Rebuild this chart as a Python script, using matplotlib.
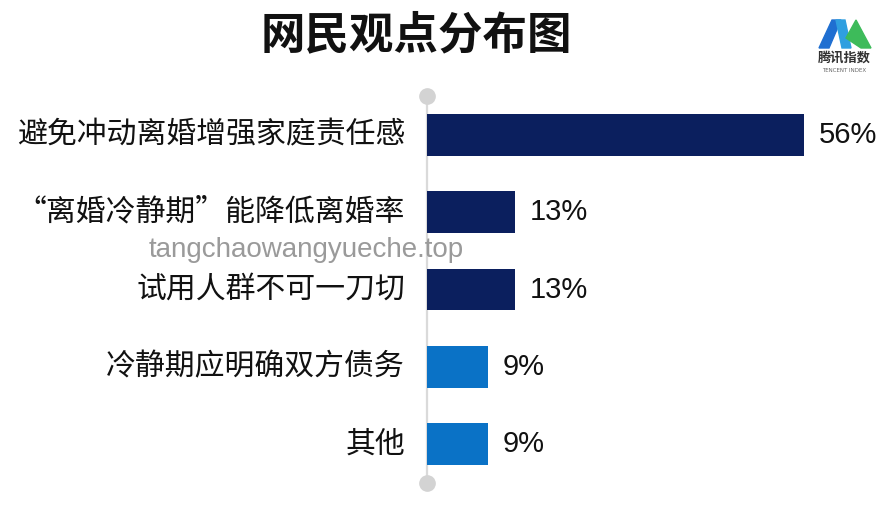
import matplotlib
matplotlib.use('Agg')
import matplotlib.pyplot as plt
from matplotlib.patches import Polygon

plt.rcParams['font.family'] = ['Noto Sans CJK SC', 'DejaVu Sans']

# data
categories = ['避免冲动离婚增强家庭责任感', '“离婚冷静期”能降低离婚率', '试用人群不可一刀切',
              '冷静期应明确双方债务', '其他']
values = [56, 13, 13, 9, 9]
colors = ['#0B1F5E', '#0B1F5E', '#0B1F5E', '#0A72C6', '#0A72C6']

W, H = 884, 520
fig = plt.figure(figsize=(W / 100, H / 100), dpi=100)
fig.patch.set_facecolor('white')

# axes placed in pixel terms
ax_left, ax_right = 427, 884
ax_top, ax_bottom = 96, 483
ax = fig.add_axes([ax_left / W, 1 - ax_bottom / H, (ax_right - ax_left) / W, (ax_bottom - ax_top) / H])
ax.set_facecolor('none')

px_per_pct = 377 / 56
ax.set_xlim(0, (ax_right - ax_left) / px_per_pct)
ax.set_ylim(4.5, -0.5)

ypos = list(range(len(categories)))
ax.barh(ypos, values, height=0.54, color=colors, zorder=2)

for y, v, c in zip(ypos, values, categories):
    ax.text(v + 15 / px_per_pct, y, f'{v}%', va='center', ha='left', fontsize=21, color='#111111',
            family=['Liberation Sans', 'DejaVu Sans'])
    ax.text(-22 / px_per_pct, y, c, va='center', ha='right', fontsize=21.5, color='#111111', clip_on=False)

for s in ax.spines.values():
    s.set_visible(False)
ax.set_xticks([])
ax.set_yticks([])

# axis line with dots at both ends
ax.plot([0, 0], [-0.5, 4.5], color='#DADADA', lw=1.6, zorder=1, clip_on=False)
ax.plot([0, 0], [-0.5, 4.5], 'o', color='#D3D3D3', ms=11, zorder=3, clip_on=False)

# title
fig.text(416 / W, 1 - 35 / H, '网民观点分布图', ha='center', va='center', fontsize=32,
         fontweight='bold', color='#111111')

# watermark
fig.text(306 / W, 1 - 250 / H, 'tangchaowangyueche.top', ha='center', va='center', fontsize=20,
         color='#9A9A9A', family=['Liberation Sans', 'DejaVu Sans'], zorder=10)

# logo (rough)
def px(pts):
    return [(x / W, 1 - y / H) for x, y in pts]

fig.patches.append(Polygon(px([(819, 48), (832, 20), (841, 20), (829, 48)]), closed=True,
                           transform=fig.transFigure, color='#1F6FD1'))
fig.patches.append(Polygon(px([(836, 20), (845, 20), (851, 48), (842, 48)]), closed=True,
                           transform=fig.transFigure, color='#2F9FE0'))
fig.patches.append(Polygon(px([(846, 38), (856, 20), (871, 48), (861, 48)]), closed=True,
                           transform=fig.transFigure, color='#3DBB5A'))
fig.text(844 / W, 1 - 58 / H, '腾讯指数', ha='center', va='center', fontsize=9.5,
         fontweight='bold', color='#333333')
fig.text(844 / W, 1 - 71 / H, 'TENCENT INDEX', ha='center', va='center', fontsize=4,
         color='#666666', family=['DejaVu Sans'])

fig.savefig('out.png', dpi=100, facecolor='white')
